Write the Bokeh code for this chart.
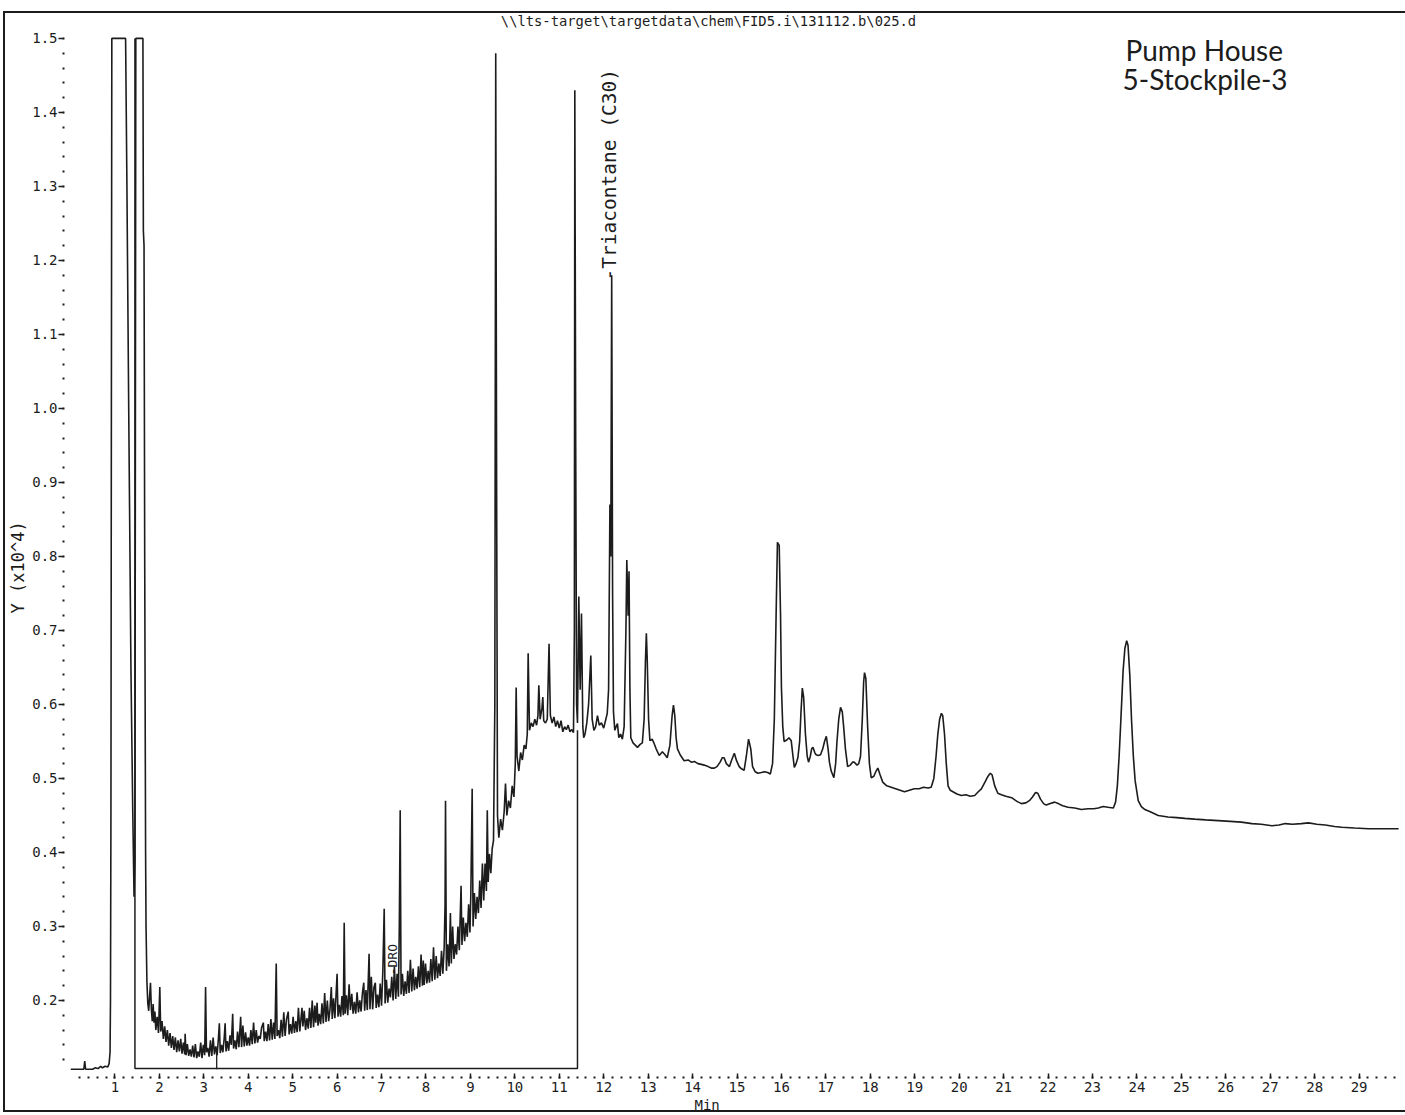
from math import pi
from bokeh.plotting import figure
from bokeh.models import FixedTicker, PrintfTickFormatter, Label, Title, InlineStyleSheet
from bokeh.embed import file_html
from bokeh.resources import INLINE

# ---------------- data ----------------
title_text = r"\\lts-target\targetdata\chem\FID5.i\131112.b\025.d"
sample_lines = ["Pump House", "5-Stockpile-3"]
x_label = "Min"
y_label = "Y (x10^4)"

# (retention time [min], response [x10^4])
trace_injection = [
    (0.00, 0.107), (0.30, 0.107), (0.32, 0.118), (0.34, 0.107), (0.50, 0.107),
    (0.55, 0.109), (0.62, 0.108), (0.68, 0.111), (0.72, 0.109), (0.78, 0.111),
    (0.84, 0.110), (0.87, 0.115), (0.89, 0.130), (0.90, 0.200), (0.91, 0.450),
    (0.92, 1.000), (0.93, 1.500), (1.24, 1.500), (1.27, 1.300), (1.31, 1.000),
    (1.36, 0.650), (1.40, 0.460), (1.43, 0.340), (1.45, 0.390), (1.47, 1.500),
    (1.63, 1.500), (1.64, 1.240), (1.655, 1.220), (1.67, 0.800), (1.69, 0.400),
    (1.70, 0.300),
]
trace_dro = [
    (1.72, 0.225), (1.74, 0.196), (1.76, 0.186), (1.78, 0.205), (1.80, 0.224),
    (1.82, 0.188), (1.84, 0.172), (1.86, 0.195), (1.88, 0.170), (1.90, 0.185),
    (1.92, 0.160), (1.95, 0.178), (1.98, 0.156), (2.01, 0.218), (2.03, 0.158),
    (2.06, 0.172), (2.09, 0.148), (2.12, 0.165), (2.15, 0.144), (2.18, 0.160),
    (2.21, 0.139), (2.24, 0.156), (2.27, 0.136), (2.30, 0.152), (2.33, 0.133),
    (2.36, 0.150), (2.39, 0.130), (2.42, 0.146), (2.45, 0.131), (2.48, 0.148),
    (2.51, 0.128), (2.54, 0.143), (2.57, 0.127), (2.58, 0.155), (2.60, 0.126),
    (2.63, 0.141), (2.66, 0.125), (2.69, 0.134), (2.72, 0.124), (2.75, 0.139),
    (2.78, 0.123), (2.81, 0.141), (2.84, 0.122), (2.87, 0.131), (2.90, 0.124),
    (2.93, 0.143), (2.96, 0.122), (2.99, 0.140), (3.02, 0.126), (3.04, 0.218),
    (3.06, 0.130), (3.09, 0.136), (3.12, 0.124), (3.15, 0.146), (3.18, 0.125),
    (3.21, 0.150), (3.24, 0.127), (3.27, 0.138), (3.30, 0.126), (3.33, 0.150),
    (3.35, 0.169), (3.37, 0.129), (3.40, 0.140), (3.43, 0.130), (3.46, 0.150),
    (3.48, 0.169), (3.50, 0.131), (3.53, 0.145), (3.56, 0.132), (3.59, 0.153),
    (3.62, 0.140), (3.65, 0.182), (3.67, 0.135), (3.70, 0.146), (3.73, 0.134),
    (3.76, 0.158), (3.79, 0.137), (3.83, 0.178), (3.85, 0.137), (3.88, 0.166),
    (3.91, 0.138), (3.94, 0.157), (3.97, 0.139), (4.00, 0.150), (4.03, 0.139),
    (4.06, 0.160), (4.09, 0.141), (4.12, 0.170), (4.15, 0.142), (4.18, 0.160),
    (4.21, 0.143), (4.24, 0.152), (4.27, 0.148), (4.30, 0.163), (4.34, 0.170),
    (4.36, 0.145), (4.39, 0.158), (4.42, 0.145), (4.45, 0.168), (4.48, 0.146),
    (4.51, 0.175), (4.54, 0.147), (4.57, 0.170), (4.60, 0.148), (4.63, 0.250),
    (4.65, 0.152), (4.68, 0.160), (4.71, 0.149), (4.74, 0.174), (4.77, 0.151),
    (4.80, 0.184), (4.83, 0.152), (4.86, 0.174), (4.90, 0.185), (4.92, 0.154),
    (4.95, 0.168), (4.98, 0.155), (5.01, 0.178), (5.04, 0.156), (5.07, 0.172),
    (5.10, 0.157), (5.13, 0.190), (5.16, 0.158), (5.21, 0.190), (5.23, 0.165),
    (5.26, 0.186), (5.29, 0.160), (5.32, 0.176), (5.35, 0.162), (5.38, 0.190),
    (5.41, 0.163), (5.44, 0.200), (5.47, 0.164), (5.50, 0.193), (5.52, 0.170),
    (5.55, 0.197), (5.57, 0.166), (5.60, 0.182), (5.63, 0.168), (5.66, 0.196),
    (5.69, 0.169), (5.72, 0.210), (5.75, 0.171), (5.78, 0.200), (5.81, 0.172),
    (5.84, 0.188), (5.87, 0.218), (5.89, 0.175), (5.92, 0.203), (5.95, 0.176),
    (5.97, 0.200), (6.00, 0.236), (6.02, 0.178), (6.05, 0.194), (6.08, 0.178),
    (6.11, 0.206), (6.14, 0.180), (6.16, 0.305), (6.18, 0.182), (6.21, 0.207),
    (6.24, 0.180), (6.27, 0.222), (6.30, 0.187), (6.33, 0.209), (6.36, 0.182),
    (6.39, 0.198), (6.42, 0.182), (6.45, 0.211), (6.48, 0.184), (6.51, 0.200),
    (6.54, 0.185), (6.57, 0.210), (6.60, 0.224), (6.62, 0.186), (6.65, 0.214),
    (6.68, 0.187), (6.72, 0.263), (6.74, 0.188), (6.77, 0.232), (6.80, 0.188),
    (6.83, 0.218), (6.86, 0.224), (6.88, 0.190), (6.91, 0.208), (6.94, 0.191),
    (6.97, 0.223), (7.00, 0.193), (7.03, 0.240), (7.06, 0.324), (7.08, 0.196),
    (7.11, 0.228), (7.14, 0.197), (7.17, 0.216), (7.20, 0.204), (7.23, 0.232),
    (7.26, 0.200), (7.29, 0.246), (7.32, 0.202), (7.35, 0.236), (7.38, 0.205),
    (7.40, 0.300), (7.42, 0.457), (7.44, 0.208), (7.47, 0.236), (7.50, 0.206),
    (7.53, 0.226), (7.56, 0.209), (7.59, 0.240), (7.62, 0.210), (7.65, 0.255),
    (7.68, 0.212), (7.71, 0.243), (7.74, 0.214), (7.77, 0.232), (7.80, 0.216),
    (7.83, 0.246), (7.86, 0.218), (7.89, 0.262), (7.92, 0.220), (7.94, 0.254),
    (7.96, 0.221), (7.99, 0.250), (8.02, 0.223), (8.05, 0.240), (8.08, 0.224),
    (8.11, 0.256), (8.14, 0.226), (8.17, 0.272), (8.20, 0.228), (8.23, 0.260),
    (8.26, 0.230), (8.29, 0.250), (8.32, 0.233), (8.35, 0.267), (8.38, 0.236),
    (8.41, 0.272), (8.43, 0.330), (8.44, 0.470), (8.46, 0.240), (8.49, 0.276),
    (8.52, 0.246), (8.55, 0.318), (8.57, 0.250), (8.60, 0.300), (8.63, 0.256),
    (8.66, 0.276), (8.69, 0.262), (8.72, 0.300), (8.75, 0.268), (8.79, 0.355),
    (8.81, 0.275), (8.84, 0.312), (8.87, 0.280), (8.90, 0.305), (8.93, 0.286),
    (8.96, 0.330), (8.99, 0.292), (9.01, 0.345), (9.04, 0.486), (9.06, 0.300),
    (9.09, 0.345), (9.12, 0.310), (9.15, 0.340), (9.18, 0.318), (9.21, 0.362),
    (9.24, 0.325), (9.27, 0.385), (9.30, 0.335), (9.33, 0.385), (9.36, 0.348),
    (9.38, 0.457), (9.40, 0.360), (9.43, 0.398), (9.46, 0.372), (9.49, 0.405),
    (9.52, 0.416),
    (9.55, 0.600), (9.57, 1.480), (9.59, 0.900), (9.61, 0.450), (9.64, 0.420),
    (9.68, 0.445), (9.72, 0.430), (9.76, 0.455), (9.79, 0.493), (9.82, 0.450),
    (9.86, 0.470), (9.90, 0.460), (9.94, 0.490), (9.98, 0.475), (10.01, 0.520),
    (10.03, 0.623), (10.05, 0.530), (10.09, 0.510), (10.13, 0.535), (10.17, 0.525),
    (10.21, 0.545), (10.25, 0.540), (10.28, 0.560), (10.30, 0.669), (10.33, 0.565),
    (10.37, 0.575), (10.41, 0.570), (10.45, 0.580), (10.49, 0.572), (10.52, 0.585),
    (10.54, 0.626), (10.57, 0.580), (10.61, 0.595), (10.63, 0.610), (10.65, 0.578),
    (10.69, 0.575), (10.73, 0.580), (10.77, 0.682), (10.80, 0.585), (10.84, 0.575),
    (10.88, 0.583), (10.92, 0.570), (10.96, 0.578), (11.00, 0.568), (11.04, 0.578),
    (11.08, 0.563), (11.12, 0.570), (11.16, 0.566), (11.20, 0.572), (11.24, 0.563),
    (11.28, 0.566), (11.32, 0.562), (11.34, 0.700), (11.35, 1.430), (11.37, 0.950),
    (11.39, 0.600), (11.41, 0.575),
]
trace_heavy = [
    (11.44, 0.746), (11.47, 0.620), (11.50, 0.723), (11.53, 0.570), (11.55, 0.555),
    (11.58, 0.560), (11.62, 0.575), (11.66, 0.600), (11.71, 0.666), (11.74, 0.580),
    (11.78, 0.565), (11.82, 0.570), (11.86, 0.585), (11.90, 0.572), (11.95, 0.575),
    (12.00, 0.568), (12.04, 0.578), (12.08, 0.588), (12.11, 0.620), (12.14, 0.870),
    (12.16, 0.800), (12.18, 1.180), (12.20, 0.750), (12.22, 0.590), (12.25, 0.565),
    (12.28, 0.570), (12.31, 0.574), (12.34, 0.555), (12.38, 0.560), (12.42, 0.553),
    (12.46, 0.570), (12.50, 0.700), (12.52, 0.795), (12.55, 0.720), (12.57, 0.780),
    (12.59, 0.620), (12.61, 0.555), (12.66, 0.548), (12.71, 0.545), (12.76, 0.542),
    (12.82, 0.546), (12.87, 0.548), (12.91, 0.580), (12.94, 0.660), (12.96, 0.696),
    (12.98, 0.660), (13.01, 0.580), (13.04, 0.551), (13.09, 0.553), (13.13, 0.548),
    (13.18, 0.540), (13.25, 0.531), (13.32, 0.536), (13.38, 0.532), (13.43, 0.528),
    (13.49, 0.545), (13.54, 0.585), (13.57, 0.599), (13.60, 0.585), (13.63, 0.555),
    (13.66, 0.540), (13.72, 0.532), (13.81, 0.524), (13.90, 0.525), (13.97, 0.522),
    (14.04, 0.523), (14.12, 0.520), (14.20, 0.519), (14.26, 0.518), (14.35, 0.516),
    (14.42, 0.514), (14.49, 0.514), (14.55, 0.516), (14.62, 0.522), (14.67, 0.528),
    (14.71, 0.528), (14.76, 0.520), (14.83, 0.516), (14.88, 0.525), (14.94, 0.534),
    (14.99, 0.524), (15.05, 0.516), (15.10, 0.513), (15.16, 0.511), (15.21, 0.530),
    (15.26, 0.553), (15.31, 0.540), (15.35, 0.516), (15.41, 0.509), (15.47, 0.507),
    (15.55, 0.508), (15.62, 0.509), (15.69, 0.508), (15.75, 0.506), (15.80, 0.520),
    (15.84, 0.580), (15.88, 0.720), (15.91, 0.819), (15.95, 0.815), (15.98, 0.720),
    (16.00, 0.623), (16.03, 0.570), (16.06, 0.550), (16.12, 0.552), (16.17, 0.555),
    (16.22, 0.551), (16.26, 0.530), (16.29, 0.515), (16.33, 0.520), (16.37, 0.528),
    (16.41, 0.550), (16.44, 0.590), (16.47, 0.622), (16.50, 0.610), (16.54, 0.560),
    (16.58, 0.530), (16.61, 0.522), (16.65, 0.530), (16.68, 0.540), (16.71, 0.542),
    (16.75, 0.535), (16.78, 0.532), (16.83, 0.531), (16.88, 0.532), (16.93, 0.540),
    (16.97, 0.550), (17.01, 0.557), (17.05, 0.540), (17.08, 0.522), (17.12, 0.510),
    (17.18, 0.501), (17.22, 0.520), (17.25, 0.550), (17.29, 0.580), (17.33, 0.596),
    (17.37, 0.590), (17.40, 0.570), (17.44, 0.540), (17.49, 0.516), (17.55, 0.518),
    (17.60, 0.522), (17.64, 0.522), (17.70, 0.518), (17.74, 0.520), (17.78, 0.530),
    (17.82, 0.580), (17.85, 0.630), (17.87, 0.643), (17.90, 0.635), (17.94, 0.570),
    (17.98, 0.520), (18.02, 0.501), (18.08, 0.503), (18.13, 0.510), (18.17, 0.514),
    (18.22, 0.505), (18.28, 0.495), (18.37, 0.490), (18.47, 0.488), (18.57, 0.486),
    (18.67, 0.484), (18.77, 0.482), (18.88, 0.484), (18.99, 0.486), (19.10, 0.486),
    (19.20, 0.488), (19.30, 0.487), (19.37, 0.488), (19.43, 0.500), (19.48, 0.530),
    (19.52, 0.560), (19.56, 0.580), (19.60, 0.588), (19.63, 0.585), (19.67, 0.560),
    (19.71, 0.520), (19.75, 0.490), (19.80, 0.484), (19.86, 0.482), (19.95, 0.479),
    (20.05, 0.477), (20.15, 0.478), (20.25, 0.476), (20.35, 0.477), (20.43, 0.482),
    (20.50, 0.486), (20.58, 0.495), (20.65, 0.503), (20.70, 0.507), (20.74, 0.505),
    (20.80, 0.490), (20.87, 0.480), (20.95, 0.478), (21.05, 0.476), (21.18, 0.474),
    (21.30, 0.469), (21.40, 0.466), (21.50, 0.467), (21.58, 0.470), (21.65, 0.475),
    (21.72, 0.481), (21.77, 0.480), (21.83, 0.472), (21.90, 0.466), (21.96, 0.464),
    (22.05, 0.466), (22.15, 0.468), (22.23, 0.466), (22.33, 0.463), (22.45, 0.461),
    (22.60, 0.460), (22.75, 0.458), (22.90, 0.459), (23.03, 0.459), (23.13, 0.460),
    (23.24, 0.462), (23.35, 0.461), (23.47, 0.460), (23.52, 0.468), (23.56, 0.490),
    (23.60, 0.530), (23.64, 0.580), (23.69, 0.646), (23.73, 0.676), (23.77, 0.686),
    (23.80, 0.680), (23.84, 0.640), (23.88, 0.578), (23.92, 0.530), (23.96, 0.497),
    (24.03, 0.470), (24.10, 0.462), (24.18, 0.458), (24.30, 0.455), (24.48, 0.450),
    (24.70, 0.448), (24.90, 0.447), (25.08, 0.446), (25.30, 0.445), (25.55, 0.444),
    (25.83, 0.443), (26.10, 0.442), (26.35, 0.441), (26.59, 0.439), (26.80, 0.438),
    (27.04, 0.436), (27.20, 0.437), (27.34, 0.439), (27.50, 0.438), (27.70, 0.439),
    (27.86, 0.440), (28.05, 0.438), (28.24, 0.437), (28.45, 0.435), (28.61, 0.434),
    (28.90, 0.433), (29.21, 0.432), (29.50, 0.432), (29.89, 0.432),
]

# DRO integration window (min) and its baseline / end heights
dro_window = [1.45, 11.41]
dro_levels = [1.500, 0.108, 0.565]   # top of left edge, baseline, top of right edge
drop_time = [3.29, 3.29]
drop_levels = [0.107, 0.130]

marker_names = ["-DRO", "-Triacontane (C30)"]
marker_times = [7.25, 12.13]
marker_levels = [0.234, 1.173]

x_ticks = list(range(1, 30))
x_minor = [round(0.2 * i, 1) for i in range(1, 150)]
y_ticks = [round(0.2 + 0.1 * i, 1) for i in range(14)]
y_minor = [round(0.12 + 0.02 * i, 2) for i in range(70)]

# ---------------- figure ----------------
INK = "#1c1c1c"
MONO = "DejaVu Sans Mono"

p = figure(width=1405, height=1115, x_range=(0, 30.0), y_range=(0.104, 1.535),
           output_backend="svg", toolbar_location=None,
           min_border_left=70, min_border_right=2, min_border_top=12,
           min_border_bottom=44)
p.outline_line_color = None
p.background_fill_color = "white"
p.border_fill_color = "white"
p.xgrid.visible = False
p.ygrid.visible = False

# page border of the printout (left, top and bottom edges of the sheet)
p.stylesheets = [InlineStyleSheet(css="""
:host { position: relative; }
:host::after {
  content: ""; position: absolute; left: 3px; top: 11px; width: 1402px; height: 1101px;
  border-left: 2px solid #1c1c1c; border-top: 2px solid #1c1c1c;
  border-bottom: 2px solid #1c1c1c; box-sizing: border-box; pointer-events: none;
}
""")]

trace = trace_injection + trace_dro + trace_heavy
t = [a for a, _ in trace]
v = [b for _, b in trace]
p.line(t, v, line_color=INK, line_width=1.6)

# integration box and drop line
p.line([dro_window[0], dro_window[0], dro_window[1], dro_window[1]],
       [dro_levels[0], dro_levels[1], dro_levels[1], dro_levels[2]],
       line_color=INK, line_width=1.5)
p.line(drop_time, drop_levels, line_color=INK, line_width=1.3)

# compound markers (vertical text)
marker_sizes = ["13px", "19.5px"]
for name, tm, lv, fs in zip(marker_names, marker_times, marker_levels, marker_sizes):
    p.add_layout(Label(x=tm, y=lv, text=name, angle=pi / 2, text_align="left",
                       text_baseline="middle", text_font=MONO, text_font_size=fs,
                       text_color=INK))

# axes
xa = p.xaxis[0]
xa.ticker = FixedTicker(ticks=x_ticks, minor_ticks=x_minor)
xa.formatter = PrintfTickFormatter(format="%d")
xa.axis_line_color = None
xa.major_tick_in = -2
xa.major_tick_out = 7
xa.major_tick_line_width = 1.5
xa.major_tick_line_color = INK
xa.minor_tick_in = -5
xa.minor_tick_out = 7
xa.minor_tick_line_width = 2
xa.minor_tick_line_color = INK
xa.major_label_standoff = 3
xa.major_label_text_font = MONO
xa.major_label_text_font_size = "14px"
xa.major_label_text_color = INK

ya = p.yaxis[0]
ya.ticker = FixedTicker(ticks=y_ticks, minor_ticks=y_minor)
ya.formatter = PrintfTickFormatter(format="%.1f")
ya.axis_line_color = None
ya.major_tick_in = -7
ya.major_tick_out = 12
ya.major_tick_line_width = 1.5
ya.major_tick_line_color = INK
ya.minor_tick_in = -6
ya.minor_tick_out = 8
ya.minor_tick_line_width = 2
ya.minor_tick_line_color = INK
ya.major_label_standoff = 1
ya.major_label_text_font = MONO
ya.major_label_text_font_size = "14px"
ya.major_label_text_color = INK

# axis titles, offset like the instrument printout
p.add_layout(Title(text=x_label, align="left", offset=624, standoff=0,
                   text_font=MONO, text_font_size="14px", text_font_style="normal",
                   text_color=INK), "below")
p.add_layout(Title(text=y_label, align="left", offset=458, standoff=4,
                   text_font=MONO, text_font_size="17px", text_font_style="normal",
                   text_color=INK), "left")

# file path header
p.add_layout(Label(x=638, y=1051, x_units="screen", y_units="screen", text=title_text,
                   text_align="center", text_baseline="middle", text_font=MONO,
                   text_font_size="13.8px", text_color=INK))

# handwritten sample note
p.add_layout(Label(x=1055, y=1022, x_units="screen", y_units="screen",
                   text=sample_lines[0], text_align="left", text_baseline="middle",
                   text_font="Lato", text_font_size="28px", text_color=INK))
p.add_layout(Label(x=1052, y=993, x_units="screen", y_units="screen",
                   text=sample_lines[1], text_align="left", text_baseline="middle",
                   text_font="Lato", text_font_size="28px", text_color=INK))

open("out.html", "w").write(file_html(p, INLINE))
